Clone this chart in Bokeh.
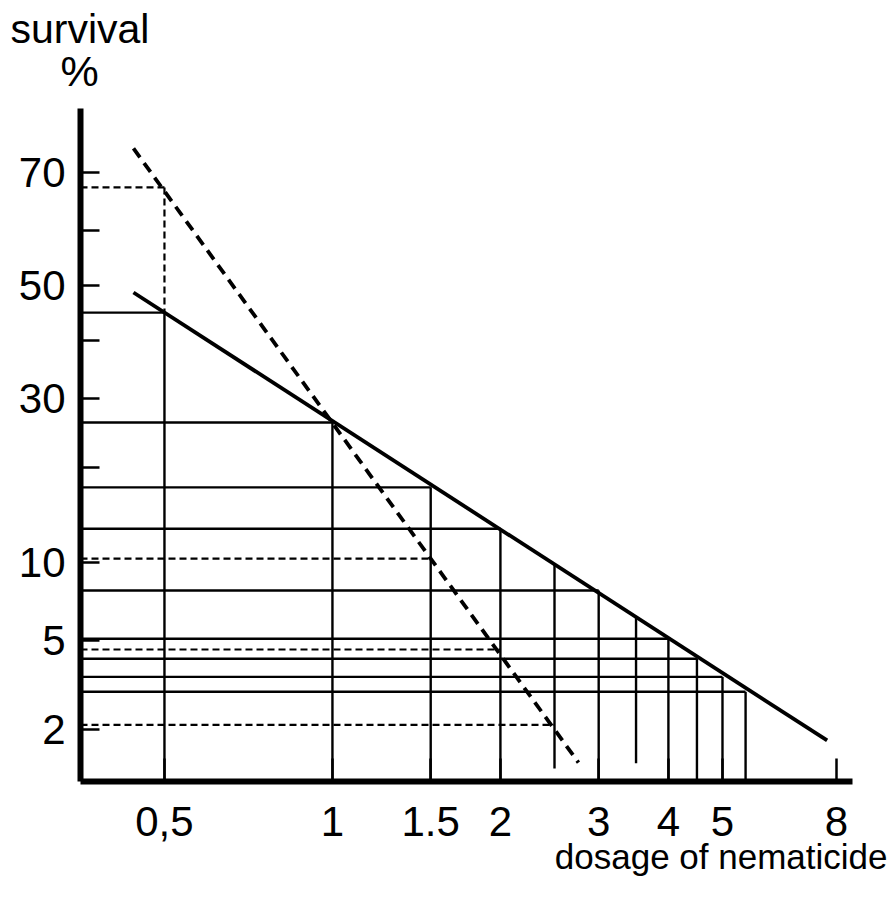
from math import erf, sqrt

from bokeh.plotting import figure
from bokeh.models import FixedTicker, Range1d, Title
from bokeh.embed import file_html
from bokeh.resources import INLINE

# ---------------- data ----------------
# y axis: survival %, probit scale
y_ticks_pct = [2, 5, 10, 20, 30, 40, 50, 60, 70]
y_tick_labels = ["2", "5", "10", "", "30", "", "50", "", "70"]

# x axis: dosage, log scale
x_ticks = [0.5, 1, 1.5, 2, 3, 4, 5, 8]
x_tick_labels = ["0,5", "1", "1.5", "2", "3", "4", "5", "8"]

# fitted (solid) line end points
fit_dose = [0.44, 7.7]
fit_surv = [48.7, 1.76]

# points on the solid line with their drop lines
grid_doses = [0.5, 1, 1.5, 2, 2.5, 3, 3.5, 4, 4.5, 5, 5.5]
grid_surv = [45.0, 26.3, 17.5, 13.0, 9.9, 7.9, 6.2, 5.1, 4.2, 3.5, 3.0]
grid_hline = [True, True, True, True, False, True, False, True, True, True, True]
grid_vfloor = [None, None, None, None, 1.27, None, 1.35, None, None, None, None]

# second (dashed) line end points
dash_dose = [0.44, 2.76]
dash_surv = [73.7, 1.36]

# dotted read-off lines from the dashed line
ref_doses = [0.5, 1.5, 2, 2.5]
ref_surv = [67.5, 10.3, 4.6, 2.1]


def probit(pct):
    p = pct / 100.0
    lo, hi = -9.0, 9.0
    for _ in range(90):
        mid = (lo + hi) / 2
        if 0.5 * (1 + erf(mid / sqrt(2))) < p:
            lo = mid
        else:
            hi = mid
    return (lo + hi) / 2


X0, X1 = 0.3536, 8.55
Y0, Y1 = -2.296, 0.819

FONT = "Liberation Sans"

p = figure(
    x_axis_type="log",
    x_range=Range1d(X0, X1),
    y_range=Range1d(Y0, Y1),
    frame_width=772,
    frame_height=673,
    min_border_left=80,
    min_border_right=35,
    min_border_top=108,
    min_border_bottom=110,
    output_backend="svg",
    toolbar_location=None,
    background_fill_color="white",
    border_fill_color="white",
)
p.outline_line_color = None
p.grid.visible = False

# y axis
ya = p.yaxis[0]
ya.ticker = FixedTicker(ticks=[probit(v) for v in y_ticks_pct])
ya.major_label_overrides = {probit(v): t for v, t in zip(y_ticks_pct, y_tick_labels)}
ya.axis_line_width = 6
ya.axis_line_color = "black"
ya.major_tick_in = 19
ya.major_tick_out = 0
ya.major_tick_line_width = 2.5
ya.major_tick_line_color = "black"
ya.minor_tick_line_color = None
ya.major_label_text_font = FONT
ya.major_label_text_font_size = "42px"
ya.major_label_text_color = "black"
ya.major_label_standoff = 15

# x axis
xa = p.xaxis[0]
xa.ticker = FixedTicker(ticks=x_ticks)
xa.major_label_overrides = {v: t for v, t in zip(x_ticks, x_tick_labels)}
xa.axis_line_width = 6
xa.axis_line_color = "black"
xa.major_tick_in = 23
xa.major_tick_out = 0
xa.major_tick_line_width = 2.5
xa.major_tick_line_color = "black"
xa.minor_tick_line_color = None
xa.major_label_text_font = FONT
xa.major_label_text_font_size = "42px"
xa.major_label_text_color = "black"
xa.major_label_standoff = 25

# ---------------- drop lines from the solid line ----------------
hx0, hy0, hx1, hy1 = [], [], [], []
vx0, vy0, vx1, vy1 = [], [], [], []
for d, s, h, f in zip(grid_doses, grid_surv, grid_hline, grid_vfloor):
    yv = probit(s)
    if h:
        hx0.append(X0); hy0.append(yv); hx1.append(d); hy1.append(yv)
    vx0.append(d); vy0.append(yv); vx1.append(d)
    vy1.append(Y0 if f is None else probit(f))

p.segment(hx0, hy0, hx1, hy1, line_color="black", line_width=2.4)
p.segment(vx0, vy0, vx1, vy1, line_color="black", line_width=2.4)

# dotted read-offs from the dashed line
rx0 = [X0] * len(ref_doses)
ry = [probit(s) for s in ref_surv]
p.segment(rx0, ry, ref_doses, ry, line_color="black", line_width=2.2, line_dash="7 4")
p.segment([ref_doses[0]], [probit(ref_surv[0])], [grid_doses[0]], [probit(grid_surv[0])],
          line_color="black", line_width=2.2, line_dash="7 4")

# solid fitted line and dashed line
p.line(fit_dose, [probit(s) for s in fit_surv], line_color="black", line_width=3.8)
p.line(dash_dose, [probit(s) for s in dash_surv], line_color="black", line_width=3.8,
       line_dash="11 7")

# ---------------- titles ----------------
p.add_layout(Title(text="%", align="left", offset=-20, standoff=28,
                   vertical_align="bottom", text_font=FONT, text_font_size="43px",
                   text_font_style="normal", text_color="black"), "above")
p.add_layout(Title(text="survival", align="left", offset=-70, standoff=-43,
                   vertical_align="bottom", text_font=FONT, text_font_size="41px",
                   text_font_style="normal", text_color="black"), "above")
p.add_layout(Title(text="dosage of nematicide", align="right", offset=-35, standoff=-4,
                   vertical_align="top", text_font=FONT, text_font_size="35px",
                   text_font_style="normal", text_color="black"), "below")

open("out.html", "w").write(file_html(p, INLINE))
